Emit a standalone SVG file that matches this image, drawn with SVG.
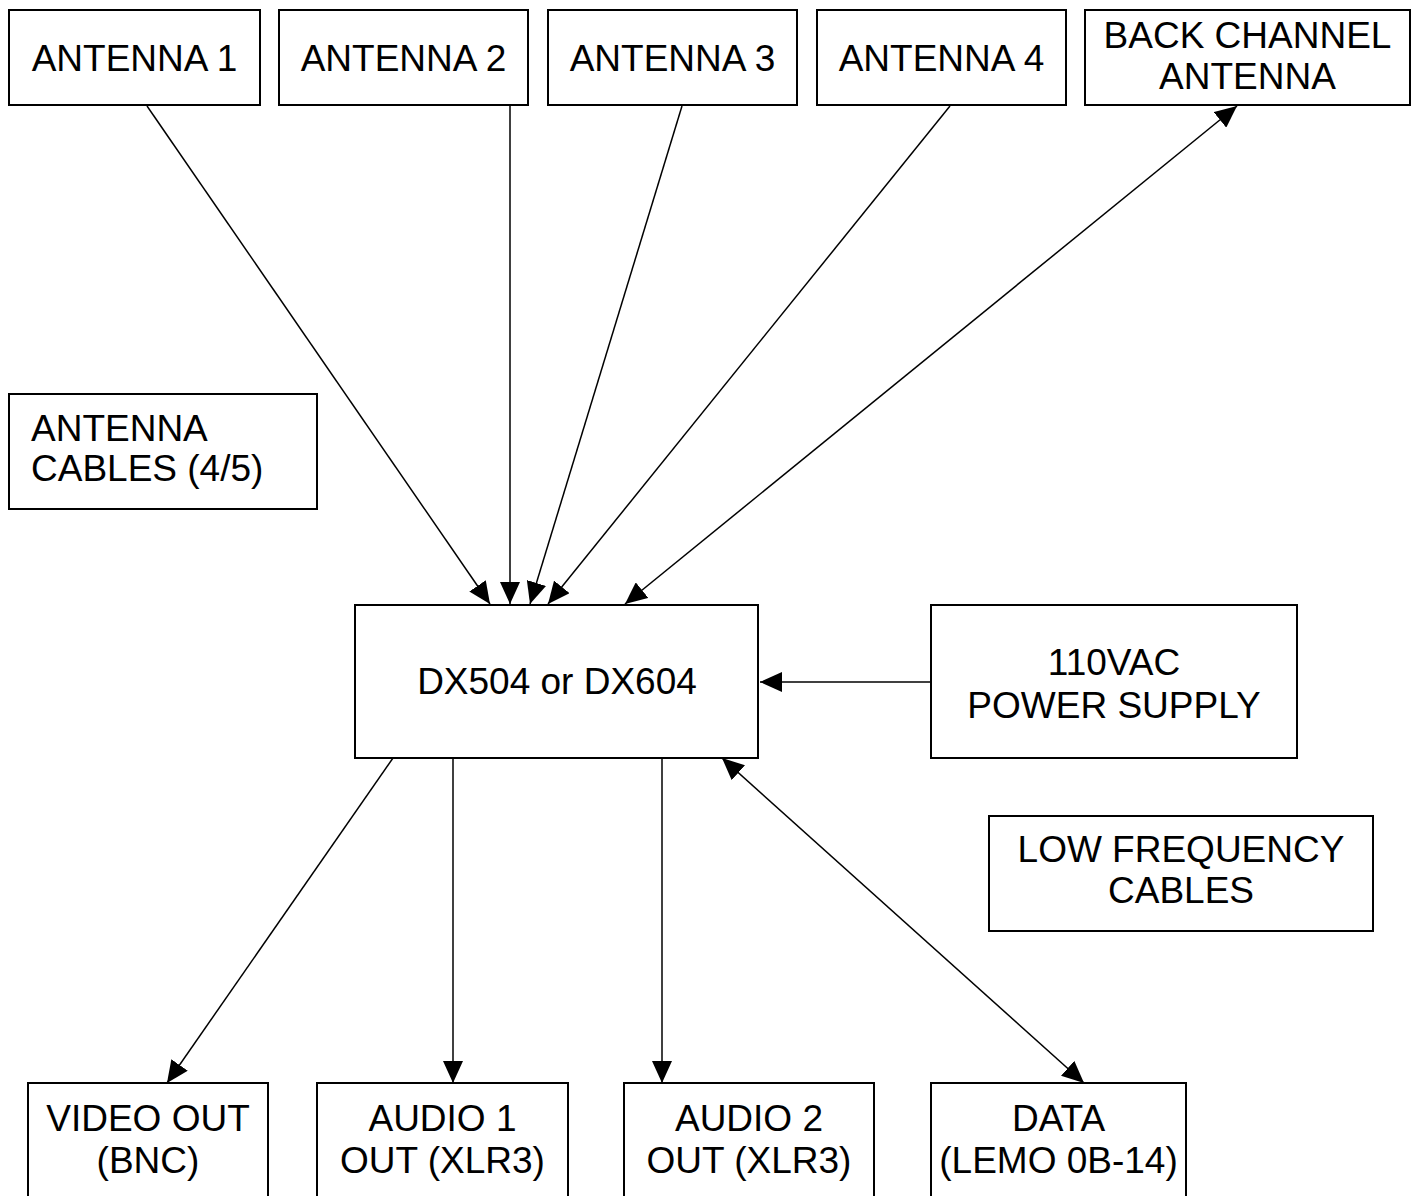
<svg xmlns="http://www.w3.org/2000/svg" width="1418" height="1196" viewBox="0 0 1418 1196">
<style>
.box{fill:#fff;stroke:#000;stroke-width:2}
.t{font-family:"Liberation Sans",Arial,sans-serif;font-size:37px;fill:#000;text-anchor:middle}
.tl{font-family:"Liberation Sans",Arial,sans-serif;font-size:37px;fill:#000}
.c{stroke:#000;stroke-width:1.5;fill:none}
</style>
<defs>
<marker id="ah" markerUnits="userSpaceOnUse" markerWidth="22" markerHeight="20" viewBox="0 0 22 20" refX="22" refY="10" orient="auto-start-reverse">
<path d="M0,0 L22,10 L0,20 z" fill="#000"/>
</marker>
</defs>
<rect width="1418" height="1196" fill="#fff"/>
<g id="connectors">
<line class="c" x1="147" y1="106" x2="490" y2="604" marker-end="url(#ah)"/>
<line class="c" x1="510" y1="106" x2="510" y2="604" marker-end="url(#ah)"/>
<line class="c" x1="682" y1="106" x2="530" y2="604" marker-end="url(#ah)"/>
<line class="c" x1="950" y1="106" x2="548" y2="604" marker-end="url(#ah)"/>
<line class="c" x1="1237" y1="106" x2="625" y2="604" marker-start="url(#ah)" marker-end="url(#ah)"/>
<line class="c" x1="931" y1="682" x2="760" y2="682" marker-end="url(#ah)"/>
<line class="c" x1="393" y1="758" x2="167" y2="1083" marker-end="url(#ah)"/>
<line class="c" x1="453" y1="758" x2="453" y2="1083" marker-end="url(#ah)"/>
<line class="c" x1="662" y1="758" x2="662" y2="1083" marker-end="url(#ah)"/>
<line class="c" x1="722" y1="758" x2="1084" y2="1083" marker-start="url(#ah)" marker-end="url(#ah)"/>
</g>
<g id="antenna1"><rect class="box" x="9" y="10" width="251" height="95"/><text class="t" x="134.5" y="71">ANTENNA 1</text></g>
<g id="antenna2"><rect class="box" x="279" y="10" width="249" height="95"/><text class="t" x="403.5" y="71">ANTENNA 2</text></g>
<g id="antenna3"><rect class="box" x="548" y="10" width="249" height="95"/><text class="t" x="672.5" y="71">ANTENNA 3</text></g>
<g id="antenna4"><rect class="box" x="817" y="10" width="249" height="95"/><text class="t" x="941.5" y="71">ANTENNA 4</text></g>
<g id="backchannel"><rect class="box" x="1085" y="10" width="325" height="95"/><text class="t" x="1247.5" y="48">BACK CHANNEL</text><text class="t" x="1247.5" y="89">ANTENNA</text></g>
<g id="cables"><rect class="box" x="9" y="394" width="308" height="115"/><text class="tl" x="31" y="441">ANTENNA</text><text class="tl" x="31" y="481">CABLES (4/5)</text></g>
<g id="dx"><rect class="box" x="355" y="605" width="403" height="153"/><text class="t" x="557" y="694">DX504 or DX604</text></g>
<g id="power"><rect class="box" x="931" y="605" width="366" height="153"/><text class="t" x="1114" y="675">110VAC</text><text class="t" x="1114" y="718">POWER SUPPLY</text></g>
<g id="lowfreq"><rect class="box" x="989" y="816" width="384" height="115"/><text class="t" x="1181" y="862">LOW FREQUENCY</text><text class="t" x="1181" y="903">CABLES</text></g>
<g id="video"><rect class="box" x="28" y="1083" width="240" height="120"/><text class="t" x="148" y="1131">VIDEO OUT</text><text class="t" x="148" y="1173">(BNC)</text></g>
<g id="audio1"><rect class="box" x="317" y="1083" width="251" height="120"/><text class="t" x="442.5" y="1131">AUDIO 1</text><text class="t" x="442.5" y="1173">OUT (XLR3)</text></g>
<g id="audio2"><rect class="box" x="624" y="1083" width="250" height="120"/><text class="t" x="749" y="1131">AUDIO 2</text><text class="t" x="749" y="1173">OUT (XLR3)</text></g>
<g id="data"><rect class="box" x="931" y="1083" width="255" height="120"/><text class="t" x="1058.5" y="1131">DATA</text><text class="t" x="1058.5" y="1173">(LEMO 0B-14)</text></g>
</svg>
